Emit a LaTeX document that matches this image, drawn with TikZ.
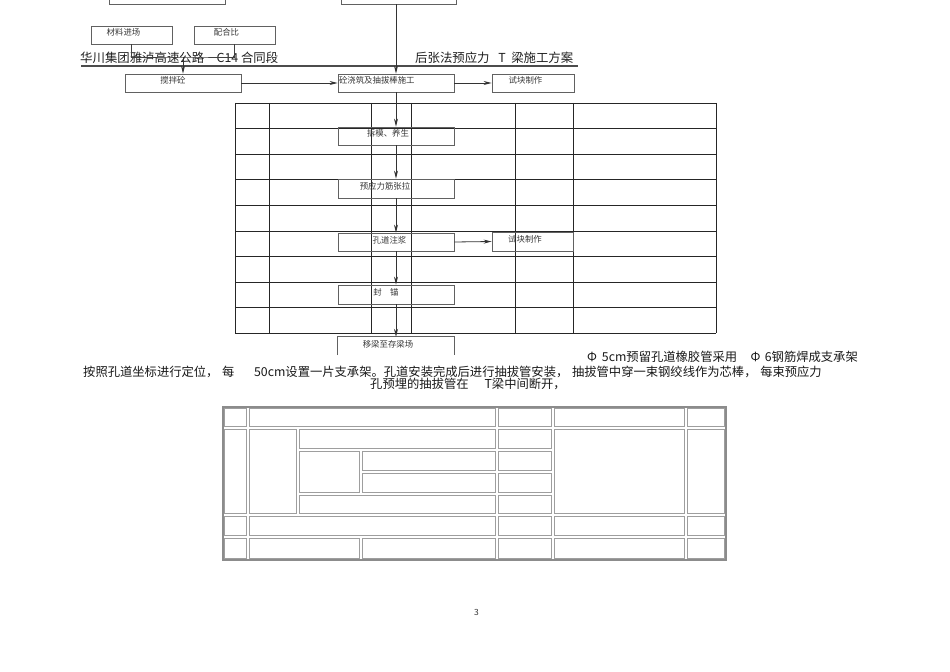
\documentclass[tikz,border=0pt]{standalone}
\usepackage{fontspec}
\setmainfont{Noto Sans CJK SC}
\usetikzlibrary{arrows.meta}
\newcommand{\tsh}{\hspace*{16bp}}
\begin{document}
\begin{tikzpicture}[x=1bp,y=-1bp,
  boxline/.style={draw=black!62, line width=0.8bp},
  flowbox/.style={boxline, inner xsep=0pt, inner ysep=0pt,
    font=\fontsize{8.4bp}{9bp}\selectfont, text=black!78,
    text height=10bp, text depth=8bp, minimum height=18bp},
  flowtext/.style={inner xsep=0pt, inner ysep=0pt,
    font=\fontsize{8.4bp}{9bp}\selectfont, text=black!78,
    text height=10bp, text depth=8bp, minimum height=18bp},
  arr/.style={draw=black!80, line width=0.8bp, -{Stealth[length=8bp,width=4bp]}},
  link/.style={draw=black!75, line width=0.8bp},
  grid1/.style={draw=black!85, line width=0.8bp},
  cell/.style={draw=black!38, line width=0.9bp},
  outer/.style={draw=black!45, line width=1.5bp},
  body/.style={anchor=base west, inner sep=0pt, font=\fontsize{12.3bp}{14bp}\selectfont, text=black!90},
  head/.style={anchor=base west, inner sep=0pt, font=\fontsize{12.4bp}{14bp}\selectfont, text=black!88}
]
\fill[white] (0,0) rectangle (950,672);
\useasboundingbox (0,0) rectangle (950,672);

% ---- table 1 grid
\foreach \yy in {103,128.6,154.2,179.8,205.4,231,256.6,282.2,307.8,333.4}
  \draw[grid1] (235,\yy) -- (716,\yy);
\foreach \xx in {235,269,371,411,515,573,716}
  \draw[grid1] (\xx,103) -- (\xx,333.4);

% ---- header
\node[head] (h1) at (80,62.5) {华川集团雅泸高速公路\hspace{1em}C14 合同段};
\node[head] (h2) at (415,62.5) {后张法预应力\hspace{0.7em}T\hspace{0.45em}梁施工方案};
\draw[draw=black!70, line width=2.3bp] (81,66) -- (578,66);

% ---- boxes
\node[flowbox, minimum width=116bp, minimum height=30bp] (top1) at (167,-11) {};
\node[flowbox, minimum width=115bp, minimum height=30bp] (top2) at (398.5,-11) {};
\node[flowbox, minimum width=81bp] (mat) at (131.5,35) {材料进场\tsh};
\node[flowbox, minimum width=81bp] (ratio) at (234.5,35) {配合比\tsh};
\node[flowbox, minimum width=116bp] (stir) at (183,83) {搅拌砼\hspace*{20bp}};
\node[flowbox, text width=114bp, inner xsep=1bp, align=left] (pour) at (396,83) {砼浇筑及抽拔棒施工};
\node[flowbox, minimum width=82bp] (test1) at (533,83) {试块制作\hspace*{15bp}};
\node[flowbox, minimum width=116bp] (demold) at (396,136) {拆模、养生\tsh};
\node[flowbox, minimum width=116bp, minimum height=19bp] (tension) at (396,188.5) {预应力筋张拉\hspace*{22bp}};
\node[flowbox, minimum width=116bp] (grout) at (396,242) {孔道注浆\hspace*{13bp}};
\node[flowbox, minimum width=81bp, minimum height=19bp] (test2) at (532.5,241.5) {试块制作\hspace*{15bp}};
\node[flowbox, minimum width=116bp, minimum height=19bp] (seal) at (396,294.5) {封\hspace{1em}锚\hspace*{20bp}};
\node[flowtext, minimum width=116bp] (move) at (396,346) {移梁至存梁场\tsh};
\draw[boxline] (move.south west) -- (move.north west) -- (move.north east) -- (move.south east);

% ---- connectors
\coordinate (j) at (183,57);
\draw[link] (mat.south) |- (j) -| (ratio.south);
\draw[arr] (j) -- (stir.north);
\draw[arr] (top2.south -| pour.north) -- (pour.north);
\draw[arr] (stir.east) -- (pour.west);
\draw[arr] (pour.east) -- (test1.west);
\draw[arr] (pour.south) -- (demold.north);
\draw[arr] (demold.south) -- (tension.north);
\draw[arr] (tension.south) -- (grout.north);
\draw[arr] (grout.east) -- (test2.west);
\draw[arr] (grout.south) -- (seal.north);
\draw[arr] (seal.south) -- (move.north);

% ---- body text
\node[body] (t1) at (587,361.5) {Φ\hspace{0.4em}5cm预留孔道橡胶管采用\hspace{1.1em}Φ\hspace{0.35em}6钢筋焊成支承架};
\node[body] (t2) at (83,376.5) {按照孔道坐标进行定位，\hspace{0.3em}每\hspace{1.6em}50cm设置一片支承架。孔道安装完成后进行抽拔管安装，\hspace{0.3em}抽拔管中穿一束钢绞线作为芯棒，\hspace{0.3em}每束预应力};
\node[body] (t3) at (370,388) {孔预埋的抽拔管在\hspace{1.3em}T梁中间断开，};

% ---- table 2
\def\ca{223}\def\cb{248}\def\cc{298}\def\cd{361}\def\ce{497}\def\cf{553}\def\cg{686}\def\ch{726}
\def\ra{407}\def\rb{428}\def\rc{450}\def\rd{472}\def\re{494}\def\rf{515}\def\rg{537}\def\rh{560}
\foreach \xa/\ya/\xb/\yb in {
  \ca/\ra/\cb/\rb, \cb/\ra/\ce/\rb, \ce/\ra/\cf/\rb, \cf/\ra/\cg/\rb, \cg/\ra/\ch/\rb,
  \ca/\rb/\cb/\rf, \cb/\rb/\cc/\rf, \cc/\rb/\ce/\rc, \ce/\rb/\cf/\rc,
  \cc/\rc/\cd/\re, \cd/\rc/\ce/\rd, \ce/\rc/\cf/\rd, \cd/\rd/\ce/\re, \ce/\rd/\cf/\re,
  \cc/\re/\ce/\rf, \ce/\re/\cf/\rf, \cf/\rb/\cg/\rf, \cg/\rb/\ch/\rf,
  \ca/\rf/\cb/\rg, \cb/\rf/\ce/\rg, \ce/\rf/\cf/\rg, \cf/\rf/\cg/\rg, \cg/\rf/\ch/\rg,
  \ca/\rg/\cb/\rh, \cb/\rg/\cd/\rh, \cd/\rg/\ce/\rh, \ce/\rg/\cf/\rh, \cf/\rg/\cg/\rh, \cg/\rg/\ch/\rh}
  \draw[cell] (\xa+1.8,\ya+1.8) rectangle (\xb-1.8,\yb-1.8);
\draw[outer] (\ca,\ra) rectangle (\ch,\rh);

% ---- page number
\node[anchor=base west, inner sep=0pt, font=\fontsize{8.5bp}{10bp}\selectfont, text=black!80] (pg) at (474,615) {3};
\end{tikzpicture}
\end{document}
